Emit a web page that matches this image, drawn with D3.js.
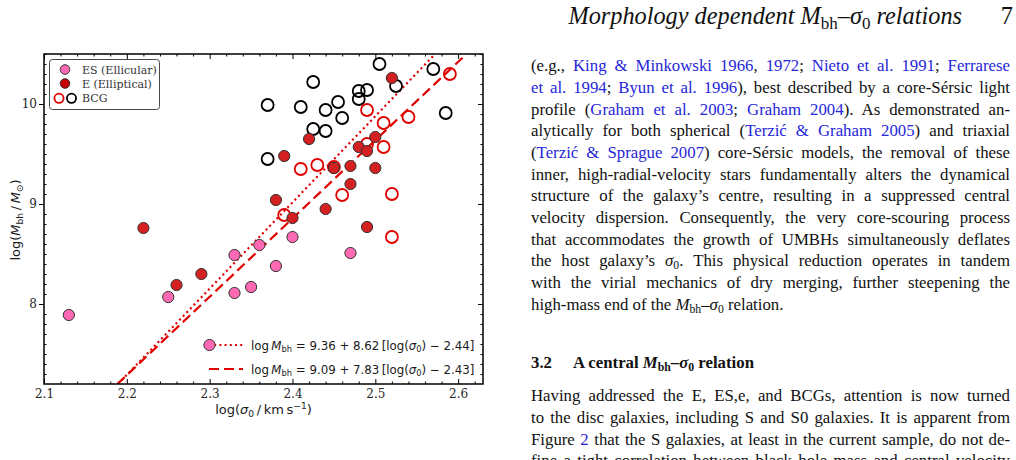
<!DOCTYPE html>
<html>
<head>
<meta charset="utf-8">
<script src="https://cdn.jsdelivr.net/npm/d3@7"></script>
<style>
body { margin: 0; background: #fff; width: 1016px; height: 460px; overflow: hidden; position: relative; }
.col { position: absolute; left: 531px; font-family: "Liberation Serif", serif; font-size: 16.8px; color: #111; }
.ln { width: 479px; height: 21.7px; line-height: 21.7px; text-align: justify; text-align-last: justify; white-space: nowrap; }
.ln.last { text-align-last: left; }
.ref { color: #2626d9; }
sub { font-size: 0.7em; vertical-align: -0.28em; line-height: 0; }
</style>
</head>
<body>
<script>
// ---- chart data ----
// ES (ellicular) galaxies
var esSigma = [2.13, 2.25, 2.33, 2.33, 2.35, 2.36, 2.38, 2.40, 2.47];
var esMbh   = [7.89, 8.07, 8.49, 8.11, 8.17, 8.59, 8.38, 8.67, 8.51];

// E (elliptical) galaxies
var eSigma = [2.22, 2.26, 2.29, 2.38, 2.39, 2.40, 2.42, 2.44, 2.45,
              2.47, 2.47, 2.48, 2.49, 2.50, 2.50, 2.52, 2.49];
var eMbh   = [8.76, 8.19, 8.30, 9.04, 9.48, 8.86, 9.65, 8.95, 9.36,
              9.38, 9.20, 9.57, 9.53, 9.67, 9.36, 10.26, 8.77];

// BCGs drawn in red
var bcgRedSigma = [2.39, 2.41, 2.43, 2.45, 2.46, 2.49, 2.49, 2.51, 2.51,
                   2.52, 2.54, 2.59, 2.52];
var bcgRedMbh   = [8.89, 9.35, 9.39, 9.37, 9.09, 9.94, 9.60, 9.81, 9.57,
                   9.10, 9.87, 10.30, 8.67];

// BCGs drawn in black
var bcgBlackSigma = [2.37, 2.37, 2.41, 2.425, 2.425, 2.44, 2.44, 2.455,
                     2.46, 2.48, 2.48, 2.49, 2.505, 2.525, 2.57, 2.585];
var bcgBlackMbh   = [9.99, 9.45, 9.97, 10.22, 9.75, 9.73, 9.94, 10.02,
                     9.86, 10.13, 10.05, 10.14, 10.40, 10.18, 10.35, 9.91];

// fitted relations: log M = a + b [log(sigma) - c]
var fitA = [9.36, 9.09];
var fitB = [8.62, 7.83];
var fitC = [2.44, 2.43];
var fitDash = ["2,3.2", "10,5"];

var xTicks = [2.1, 2.2, 2.3, 2.4, 2.5, 2.6];
var yTicks = [8, 9, 10];
var legendNames = ["ES (Ellicular)", "E (Elliptical)", "BCG"];

// ---- page text ----
var headerText = '<i>Morphology dependent M</i><sub>bh</sub>–<i>σ</i><sub>0</sub> <i>relations</i>';
var para1 = [
  '(e.g., <span class="ref">King &amp; Minkowski 1966</span>, <span class="ref">1972</span>; <span class="ref">Nieto et al. 1991</span>; <span class="ref">Ferrarese</span>',
  '<span class="ref">et al. 1994</span>; <span class="ref">Byun et al. 1996</span>), best described by a core-Sérsic light',
  'profile (<span class="ref">Graham et al. 2003</span>; <span class="ref">Graham 2004</span>). As demonstrated an-',
  'alytically for both spherical (<span class="ref">Terzić &amp; Graham 2005</span>) and triaxial',
  '(<span class="ref">Terzić &amp; Sprague 2007</span>) core-Sérsic models, the removal of these',
  'inner, high-radial-velocity stars fundamentally alters the dynamical',
  'structure of the galaxy’s centre, resulting in a suppressed central',
  'velocity dispersion. Consequently, the very core-scouring process',
  'that accommodates the growth of UMBHs simultaneously deflates',
  'the host galaxy’s <i>σ</i><sub>0</sub>. This physical reduction operates in tandem',
  'with the virial mechanics of dry merging, further steepening the',
  'high-mass end of the <i>M</i><sub>bh</sub>–<i>σ</i><sub>0</sub> relation.'
];
var heading = '<b>3.2&nbsp;&nbsp;&nbsp;&nbsp;&nbsp;A central <i>M</i><sub>bh</sub>–<i>σ</i><sub>0</sub> relation</b>';
var para2 = [
  'Having addressed the E, ES,e, and BCGs, attention is now turned',
  'to the disc galaxies, including S and S0 galaxies. It is apparent from',
  'Figure <span class="ref">2</span> that the S galaxies, at least in the current sample, do not de-',
  'fine a tight correlation between black hole mass and central velocity'
];

// ---- chart ----
var svg = d3.select("body").append("svg")
    .attr("width", 500)
    .attr("height", 460)
    .style("position", "absolute")
    .style("left", "0px")
    .style("top", "0px");

var x = d3.scaleLinear().domain([2.1, 2.63]).range([44, 483]);
var y = d3.scaleLinear().domain([7.2, 10.5]).range([384, 54]);

var xMinor = d3.range(105, 132).map(d => d / 50)
    .filter(d => d <= 2.63 && xTicks.every(t => Math.abs(t - d) > 1e-6));
var yMinor = d3.range(73, 106).map(d => d / 10)
    .filter(d => yTicks.every(t => Math.abs(t - d) > 1e-6));

svg.append("defs").append("clipPath")
    .attr("id", "plotclip")
    .append("rect")
    .attr("x", x.range()[0])
    .attr("y", y.range()[1])
    .attr("width", x.range()[1] - x.range()[0])
    .attr("height", y.range()[0] - y.range()[1]);

function styleAxis(g) {
    g.select(".domain").remove();
    g.selectAll(".tick line").attr("stroke", "#000").attr("stroke-width", 1);
    g.selectAll(".tick text")
        .attr("fill", "#262626")
        .style("font-family", "DejaVu Serif")
        .style("font-size", "12px");
}

// bottom
svg.append("g").attr("transform", "translate(0," + y.range()[0] + ")")
    .call(d3.axisBottom(x).tickValues(xTicks).tickSize(-5).tickPadding(5)
        .tickFormat(d3.format(".1f")))
    .call(styleAxis);
svg.append("g").attr("transform", "translate(0," + y.range()[0] + ")")
    .call(d3.axisBottom(x).tickValues(xMinor).tickSize(-2.5).tickFormat(""))
    .call(styleAxis);
// top
svg.append("g").attr("transform", "translate(0," + y.range()[1] + ")")
    .call(d3.axisTop(x).tickValues(xTicks).tickSize(-5).tickFormat(""))
    .call(styleAxis);
svg.append("g").attr("transform", "translate(0," + y.range()[1] + ")")
    .call(d3.axisTop(x).tickValues(xMinor).tickSize(-2.5).tickFormat(""))
    .call(styleAxis);
// left
svg.append("g").attr("transform", "translate(" + x.range()[0] + ",0)")
    .call(d3.axisLeft(y).tickValues(yTicks).tickSize(5).tickPadding(2)
        .tickFormat(d3.format("d")))
    .call(styleAxis);
svg.append("g").attr("transform", "translate(" + x.range()[0] + ",0)")
    .call(d3.axisLeft(y).tickValues(yMinor).tickSize(-2.5).tickFormat(""))
    .call(styleAxis);
// right
svg.append("g").attr("transform", "translate(" + x.range()[1] + ",0)")
    .call(d3.axisRight(y).tickValues(yTicks).tickSize(-5).tickFormat(""))
    .call(styleAxis);
svg.append("g").attr("transform", "translate(" + x.range()[1] + ",0)")
    .call(d3.axisRight(y).tickValues(yMinor).tickSize(-2.5).tickFormat(""))
    .call(styleAxis);

// fit lines, from the bottom to the top of the y range
var line = d3.line().x(d => x(d[0])).y(d => y(d[1]));
var yDom = y.domain();
fitA.forEach(function(a, i) {
    var pts = yDom.map(v => [fitC[i] + (v - a) / fitB[i], v]);
    svg.append("path")
        .attr("clip-path", "url(#plotclip)")
        .attr("d", line(pts))
        .attr("fill", "none")
        .attr("stroke", "#e00000")
        .attr("stroke-width", 2.2)
        .attr("stroke-dasharray", fitDash[i]);
});

var pts = svg.append("g").attr("clip-path", "url(#plotclip)");

function openCircles(xs, ys, colour) {
    pts.selectAll(null).data(xs).enter().append("circle")
        .attr("cx", d => x(d))
        .attr("cy", (d, i) => y(ys[i]))
        .attr("r", 6)
        .attr("fill", "none")
        .attr("stroke", colour)
        .attr("stroke-width", 1.8);
}
function filledCircles(xs, ys, colour) {
    pts.selectAll(null).data(xs).enter().append("circle")
        .attr("cx", d => x(d))
        .attr("cy", (d, i) => y(ys[i]))
        .attr("r", 5.6)
        .attr("fill", colour)
        .attr("stroke", "#333")
        .attr("stroke-width", 1);
}
openCircles(bcgBlackSigma, bcgBlackMbh, "#000");
openCircles(bcgRedSigma, bcgRedMbh, "#e00000");
filledCircles(eSigma, eMbh, "#d42020");
filledCircles(esSigma, esMbh, "#ff69b4");

// frame
svg.append("rect")
    .attr("x", x.range()[0])
    .attr("y", y.range()[1])
    .attr("width", x.range()[1] - x.range()[0])
    .attr("height", y.range()[0] - y.range()[1])
    .attr("fill", "none")
    .attr("stroke", "#000")
    .attr("stroke-width", 1.5);

// mathtext-ish labels built from tspans
function addMath(t, parts, fs) {
    var shift = 0;
    parts.forEach(function(p) {
        var target = 0, size = fs, style = "normal";
        if (p[1] == "i") style = "italic";
        if (p[1] == "sub") { target = 0.24 * fs; size = 0.7 * fs; }
        if (p[1] == "sup") { target = -0.4 * fs; size = 0.7 * fs; }
        t.append("tspan")
            .attr("dy", target - shift)
            .style("font-size", size + "px")
            .style("font-style", style)
            .text(p[0]);
        shift = target;
    });
}

var xlab = svg.append("text")
    .attr("x", (x.range()[0] + x.range()[1]) / 2)
    .attr("y", 414)
    .attr("text-anchor", "middle")
    .attr("fill", "#1a1a1a")
    .style("font-family", "DejaVu Sans");
addMath(xlab, [["log(", "n"], ["σ", "i"], ["0", "sub"], ["\u2009/\u2009km\u2009s", "n"],
    ["−1", "sup"], [")", "n"]], 13);

var ylab = svg.append("text")
    .attr("transform", "translate(20," + 220 + ") rotate(-90)")
    .attr("text-anchor", "middle")
    .attr("fill", "#1a1a1a")
    .style("font-family", "DejaVu Sans");
addMath(ylab, [["log(", "n"], ["M", "i"], ["bh", "sub"], ["\u2009/\u2009", "n"],
    ["M", "i"], ["⊙", "sub"], [")", "n"]], 13);

// top-left legend
var leg = svg.append("g");
leg.append("rect")
    .attr("x", 49.5).attr("y", 59.5)
    .attr("width", 110).attr("height", 50)
    .attr("rx", 3)
    .attr("fill", "#fff")
    .attr("stroke", "#333")
    .attr("stroke-width", 0.9);
leg.append("circle").attr("cx", 65).attr("cy", 69.5).attr("r", 4.8)
    .attr("fill", "#ff69b4").attr("stroke", "#333").attr("stroke-width", 1);
leg.append("circle").attr("cx", 65).attr("cy", 83.5).attr("r", 4.8)
    .attr("fill", "#c40000").attr("stroke", "#333").attr("stroke-width", 1);
leg.append("circle").attr("cx", 59).attr("cy", 98.3).attr("r", 4.6)
    .attr("fill", "none").attr("stroke", "#e00000").attr("stroke-width", 1.8);
leg.append("circle").attr("cx", 71.5).attr("cy", 98.3).attr("r", 4.6)
    .attr("fill", "none").attr("stroke", "#000").attr("stroke-width", 1.8);
leg.selectAll("text.lg").data(legendNames).enter().append("text")
    .attr("x", 82)
    .attr("y", (d, i) => 73.5 + i * 14.4)
    .attr("fill", "#333")
    .style("font-family", "DejaVu Serif")
    .style("font-size", "11px")
    .text(d => d);

// fit legend, lower right
var fmt = d3.format(".2f");
fitA.forEach(function(a, i) {
    var yy = 345 + i * 24;
    svg.append("line")
        .attr("x1", 209).attr("x2", 243)
        .attr("y1", yy).attr("y2", yy)
        .attr("stroke", "#e00000")
        .attr("stroke-width", 2.2)
        .attr("stroke-dasharray", fitDash[i]);
    if (i == 0) {
        svg.append("circle").attr("cx", 209.5).attr("cy", yy).attr("r", 5.6)
            .attr("fill", "#ff69b4").attr("stroke", "#333").attr("stroke-width", 1);
    }
    var t = svg.append("text")
        .attr("x", 251)
        .attr("y", yy + 4.5)
        .attr("fill", "#1a1a1a")
        .style("font-family", "DejaVu Sans");
    addMath(t, [["log\u2009", "n"], ["M", "i"], ["bh", "sub"],
        [" = " + fmt(a) + " + " + fmt(fitB[i]) + "\u2009[log(", "n"], ["σ", "i"], ["0", "sub"],
        [") − " + fmt(fitC[i]) + "]", "n"]], 11.8);
});

// ---- right-hand text column ----
var body = d3.select("body");
body.append("div")
    .attr("class", "col")
    .style("left", "540px")
    .style("width", "422px")
    .style("top", "0px")
    .style("font-size", "24.3px")
    .style("line-height", "32px")
    .style("text-align", "right")
    .html(headerText);
body.append("div")
    .attr("class", "col")
    .style("left", "980px")
    .style("width", "33px")
    .style("top", "0px")
    .style("font-size", "24.3px")
    .style("line-height", "32px")
    .style("text-align", "right")
    .text("7");

var p1 = body.append("div").attr("class", "col").style("top", "55.2px");
p1.selectAll("div").data(para1).enter().append("div")
    .attr("class", (d, i) => i == para1.length - 1 ? "ln last" : "ln")
    .html(d => d);

body.append("div").attr("class", "col").style("top", "351.8px")
    .append("div").attr("class", "ln last").html(heading);

var p2 = body.append("div").attr("class", "col").style("top", "385.2px");
p2.selectAll("div").data(para2).enter().append("div")
    .attr("class", "ln")
    .html(d => d);
</script>
</body>
</html>
